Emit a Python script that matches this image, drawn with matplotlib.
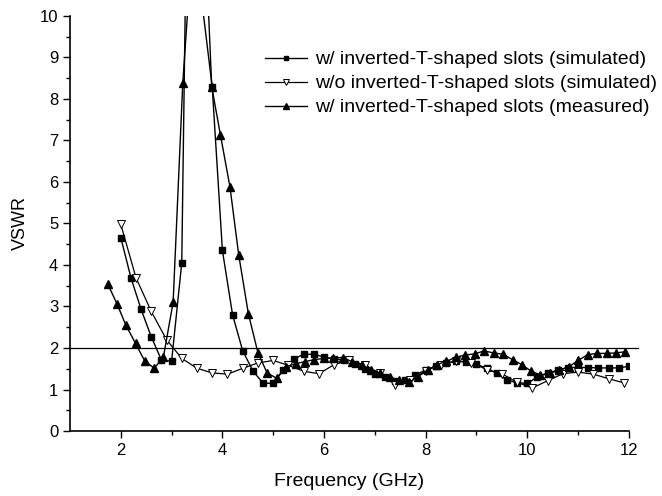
import numpy as np
import matplotlib
matplotlib.use('Agg')
from matplotlib import pyplot as plt

plt.rcParams['font.family'] = ['Liberation Sans', 'DejaVu Sans']

# w/ inverted-T-shaped slots (simulated), squares
freq_sim = [2.0, 2.2, 2.4, 2.6, 2.8, 3.0, 3.2, 3.4, 3.6, 3.8, 4.0, 4.2, 4.4, 4.6, 4.8,
            5.0, 5.2, 5.4, 5.6, 5.8, 6.0, 6.2, 6.4, 6.6, 6.8, 7.0, 7.2, 7.4, 7.6, 7.8,
            8.0, 8.2, 8.4, 8.6, 8.8, 9.0, 9.2, 9.4, 9.6, 9.8, 10.0, 10.2, 10.4, 10.6,
            10.8, 11.0, 11.2, 11.4, 11.6, 11.8, 12.0]
vswr_sim = [4.66, 3.69, 2.93, 2.27, 1.71, 1.68, 4.05, 22.0, 10.3, 8.28, 4.35, 2.80, 1.93, 1.45, 1.15,
            1.15, 1.47, 1.73, 1.85, 1.85, 1.78, 1.73, 1.71, 1.62, 1.50, 1.38, 1.29, 1.21, 1.22, 1.35,
            1.47, 1.56, 1.64, 1.68, 1.67, 1.61, 1.51, 1.39, 1.23, 1.16, 1.15, 1.30, 1.39, 1.47,
            1.53, 1.53, 1.53, 1.52, 1.52, 1.52, 1.56]

# w/o inverted-T-shaped slots (simulated), open down-triangles
freq_wo = [2.0, 2.3, 2.6, 2.9, 3.2, 3.5, 3.8, 4.1, 4.4, 4.7, 5.0, 5.3, 5.6, 5.9, 6.2, 6.5, 6.8,
           7.1, 7.4, 7.7, 8.0, 8.3, 8.6, 8.9, 9.2, 9.5, 9.8, 10.1, 10.4, 10.7, 11.0, 11.3, 11.6, 11.9]
vswr_wo = [4.98, 3.69, 2.88, 2.20, 1.75, 1.51, 1.40, 1.37, 1.51, 1.64, 1.70, 1.58, 1.44, 1.38, 1.60,
           1.71, 1.59, 1.39, 1.12, 1.22, 1.45, 1.60, 1.68, 1.65, 1.48, 1.38, 1.17, 1.04, 1.21, 1.38,
           1.42, 1.37, 1.26, 1.16]

# w/ inverted-T-shaped slots (measured), filled triangles
freq_meas = [1.74, 1.93, 2.10, 2.29, 2.47, 2.66, 2.84, 3.03, 3.22, 3.41, 3.60, 3.79, 3.96, 4.15,
             4.32, 4.51, 4.70, 4.88, 5.07, 5.25, 5.44, 5.62, 5.81, 6.00, 6.18, 6.37, 6.55, 6.74,
             6.92, 7.11, 7.30, 7.48, 7.67, 7.85, 8.04, 8.22, 8.41, 8.60, 8.78, 8.97, 9.15, 9.34,
             9.52, 9.71, 9.89, 10.08, 10.26, 10.45, 10.63, 10.82, 11.00, 11.19, 11.37, 11.56,
             11.74, 11.93]
vswr_meas = [3.55, 3.05, 2.55, 2.11, 1.69, 1.51, 1.79, 3.10, 8.38, 11.8, 13.7, 8.29, 7.14, 5.87,
             4.25, 2.83, 1.88, 1.40, 1.27, 1.55, 1.62, 1.67, 1.72, 1.75, 1.76, 1.77, 1.67, 1.58,
             1.48, 1.39, 1.30, 1.22, 1.17, 1.31, 1.47, 1.60, 1.68, 1.78, 1.83, 1.86, 1.93, 1.88,
             1.85, 1.72, 1.60, 1.44, 1.35, 1.40, 1.46, 1.55, 1.70, 1.84, 1.87, 1.87,
             1.88, 1.91]

labels = ['w/ inverted-T-shaped slots (simulated)',
          'w/o inverted-T-shaped slots (simulated)',
          'w/ inverted-T-shaped slots (measured)']

fig = plt.figure(figsize=(6.62, 4.96), dpi=100)
ax = fig.add_axes([0.1057, 0.131, 0.8443, 0.837])

ax.plot(freq_sim, vswr_sim, color='black', lw=1, marker='s', ms=4,
        mfc='black', mec='black', label=labels[0])
ax.plot(freq_wo, vswr_wo, color='black', lw=0.9, marker='v', ms=6,
        mfc='white', mec='black', mew=0.7, label=labels[1])
ax.plot(freq_meas, vswr_meas, color='black', lw=1, marker='^', ms=5.5,
        mfc='black', mec='black', label=labels[2])

# VSWR = 2 reference line
ax.axhline(2, xmin=0, xmax=1.016, color='black', lw=0.9, clip_on=False)

ax.set_xlim(1, 12)
ax.set_ylim(0, 10)
ax.set_xticks([2, 4, 6, 8, 10, 12])
ax.set_xticks([3, 5, 7, 9, 11], minor=True)
ax.set_yticks(np.arange(0, 11, 1))
ax.set_yticks(np.arange(0.5, 10, 1), minor=True)
ax.tick_params(which='major', direction='out', length=5, width=1, labelsize=12)
ax.tick_params(which='minor', direction='out', length=3, width=1)
ax.spines['top'].set_visible(False)
ax.spines['right'].set_visible(False)
ax.spines['left'].set_linewidth(1.2)
ax.spines['bottom'].set_linewidth(1.2)

ax.set_xlabel('Frequency (GHz)', fontsize=14, labelpad=11)
ax.set_ylabel('VSWR', fontsize=13, labelpad=8)

leg = ax.legend(loc='upper right', bbox_to_anchor=(1.082, 0.958), frameon=False, fontsize=14,
                handlelength=2.2, handletextpad=0.4, labelspacing=0.33, markerscale=0.8)

plt.savefig('out.png', dpi=100)
